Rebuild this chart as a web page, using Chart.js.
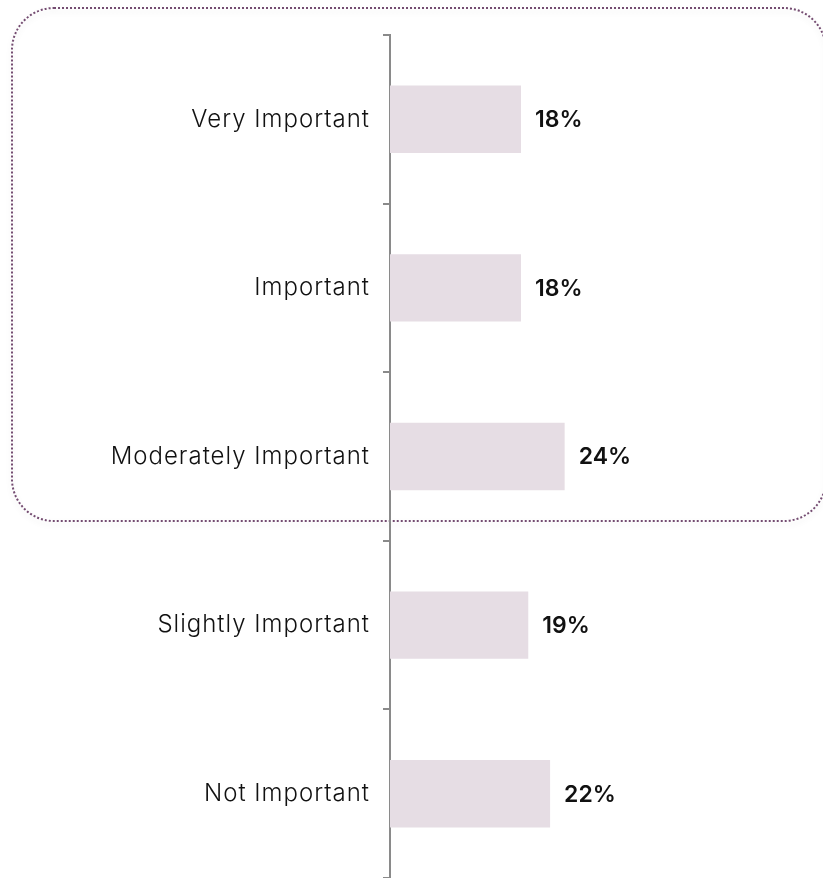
<!DOCTYPE html>
<html>
<head>
<meta charset="utf-8">
<script src="https://cdn.jsdelivr.net/npm/chart.js@4/dist/chart.umd.min.js"></script>
<style>
  html, body { margin: 0; padding: 0; background: #ffffff; overflow: hidden; }
</style>
</head>
<body>
<canvas id="chart" width="823" height="878"></canvas>
<script>
// Importance ratings (share of respondents, %)
const categories = ['Very Important', 'Important', 'Moderately Important', 'Slightly Important', 'Not Important'];
const shares = [18, 18, 24, 19, 22];

const LABEL_FONT = 'Inter, "Open Sans", sans-serif';
const VALUE_FONT = 'Inter, "Open Sans", sans-serif';

// Dotted rounded frame grouping the top three ratings; drawn first so the axis sits on top.
// Also widens the letter spacing used for the category labels.
const framePlugin = {
  id: 'groupFrame',
  beforeDraw(chart) {
    const ctx = chart.ctx;
    const x = 12, y = 8, w = 814, h = 513, r = 42;
    ctx.save();
    ctx.beginPath();
    ctx.moveTo(x + r, y);
    ctx.lineTo(x + w - r, y);
    ctx.arcTo(x + w, y, x + w, y + r, r);
    ctx.lineTo(x + w, y + h - r);
    ctx.arcTo(x + w, y + h, x + w - r, y + h, r);
    ctx.lineTo(x + r, y + h);
    ctx.arcTo(x, y + h, x, y + h - r, r);
    ctx.lineTo(x, y + r);
    ctx.arcTo(x, y, x + r, y, r);
    ctx.closePath();
    ctx.shadowColor = 'rgba(0,0,0,0.12)';
    ctx.shadowBlur = 6;
    ctx.shadowOffsetY = 3;
    ctx.setLineDash([2, 2]);
    ctx.lineWidth = 2;
    ctx.strokeStyle = '#744c71';
    ctx.stroke();
    ctx.restore();
    ctx.letterSpacing = '1px';
  },
  beforeDatasetsDraw(chart) {
    chart.ctx.letterSpacing = '0px';
  }
};

// Percentage labels at the end of each bar
const valueLabels = {
  id: 'valueLabels',
  afterDatasetsDraw(chart) {
    const ctx = chart.ctx;
    const meta = chart.getDatasetMeta(0);
    ctx.save();
    ctx.letterSpacing = '0px';
    ctx.font = '600 23px ' + VALUE_FONT;
    ctx.fillStyle = '#111111';
    ctx.textAlign = 'left';
    ctx.textBaseline = 'middle';
    meta.data.forEach((bar, i) => {
      const v = chart.data.datasets[0].data[i];
      ctx.fillText(v + '%', bar.x + 14, bar.y + 1);
    });
    ctx.restore();
  }
};

new Chart(document.getElementById('chart'), {
  type: 'bar',
  data: {
    labels: categories,
    datasets: [{
      data: shares,
      backgroundColor: '#e6dde4',
      borderWidth: 0,
      categoryPercentage: 0.8,
      barPercentage: 0.5
    }]
  },
  options: {
    indexAxis: 'y',
    responsive: false,
    animation: false,
    layout: { padding: { top: 35, bottom: 0, right: 0, left: 0 } },
    plugins: {
      legend: { display: false },
      tooltip: { enabled: false }
    },
    scales: {
      x: {
        display: false,
        min: 0,
        max: 59.5
      },
      y: {
        afterFit(scale) {
          scale.width = 390;
          scale.paddingTop = 0;
          scale.paddingBottom = 0;
        },
        grid: {
          display: true,
          drawOnChartArea: false,
          drawTicks: true,
          tickLength: 7,
          color: '#8a8a8a',
          lineWidth: 2
        },
        border: { display: true, color: '#8a8a8a', width: 2 },
        ticks: {
          color: '#111111',
          padding: 13,
          font: { family: LABEL_FONT, size: 24, weight: '300' }
        }
      }
    }
  },
  plugins: [framePlugin, valueLabels]
});
</script>
</body>
</html>
